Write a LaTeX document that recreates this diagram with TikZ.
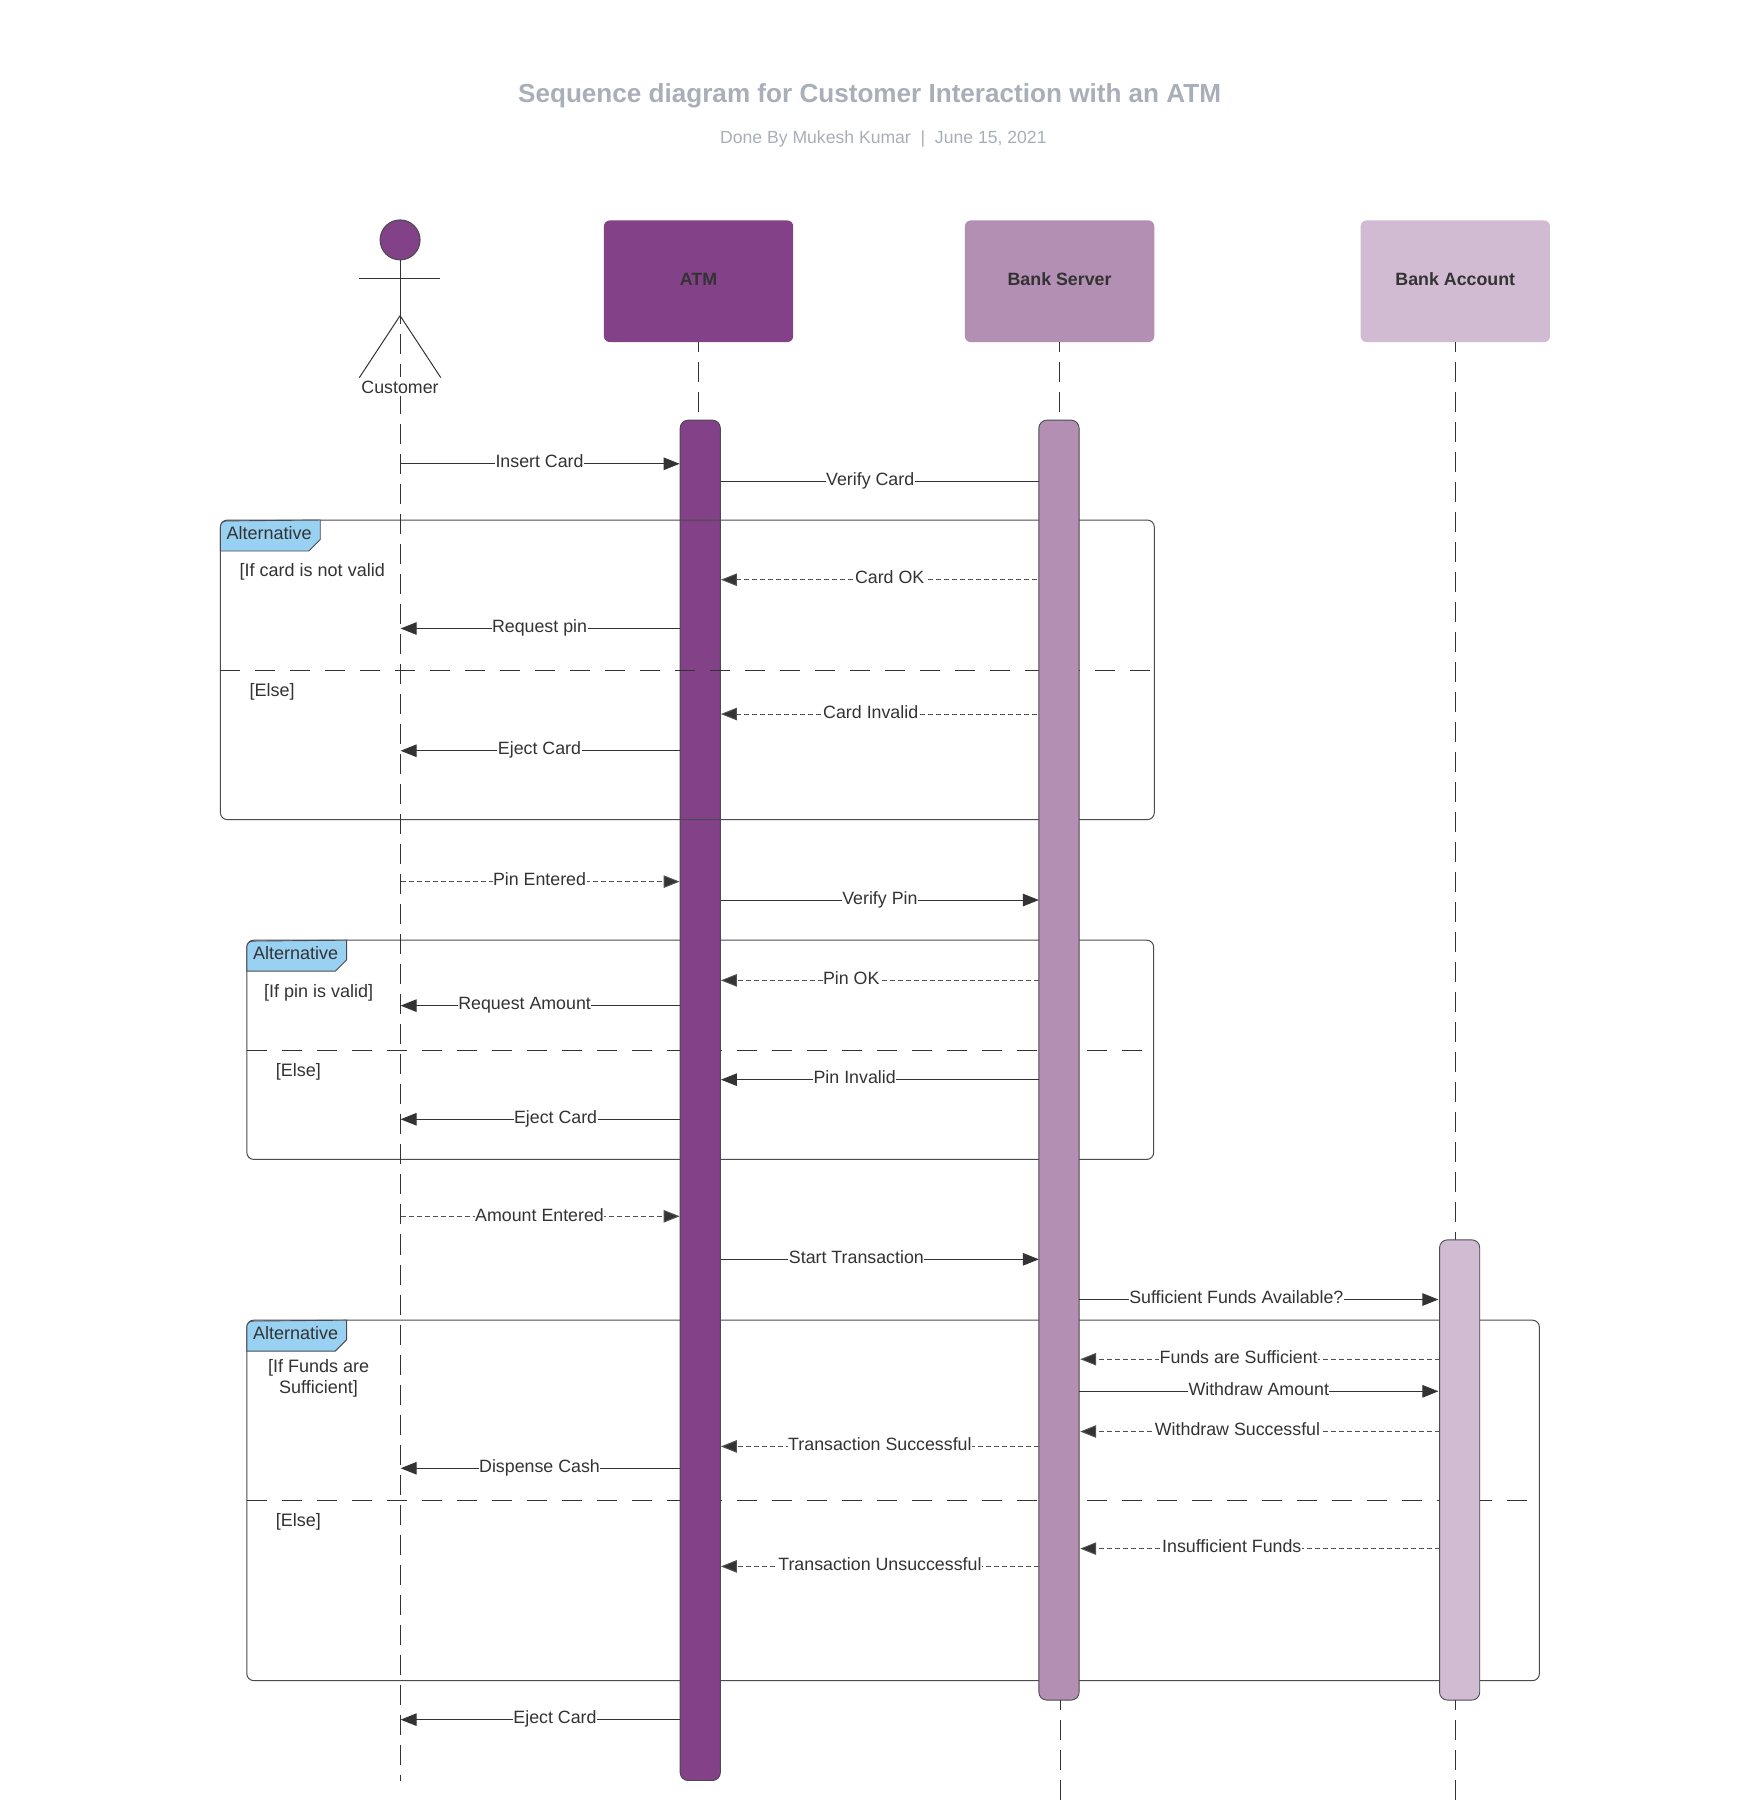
\documentclass[tikz,border=0pt]{standalone}
\usepackage{fontspec}
\setmainfont{Liberation Sans}
\usetikzlibrary{arrows.meta}
\definecolor{ink}{HTML}{333333}
\definecolor{edge}{HTML}{4A4A52}
\definecolor{purA}{HTML}{834187}
\definecolor{purB}{HTML}{B28FB3}
\definecolor{purC}{HTML}{D1BBD2}
\definecolor{tabblue}{HTML}{99D1F2}
\definecolor{titlegray}{HTML}{A9AFB8}
\tikzset{
  x=1.14796pt,y=-1.14796pt,
  head/.style={minimum width=189.4pt,minimum height=121.7pt,inner sep=0pt,outer sep=0pt,rounded corners=6pt,font=\fontsize{17.8pt}{20pt}\selectfont\bfseries,text=ink},
  barbox/.style={draw=edge,line width=0.9pt,minimum width=40.2pt,inner sep=0pt,outer sep=0pt,rounded corners=8pt},
  life/.style={draw=ink,line width=1pt,dash pattern=on 20pt off 10pt,dash phase=10pt},
  solidmsg/.style={draw=ink,line width=1pt,-{Triangle[length=16pt,width=12.5pt]}},
  solidend/.style={draw=ink,line width=1pt},
  dashmsg/.style={draw=ink!85,line width=1pt,dash pattern=on 5pt off 3pt,-{Triangle[length=16pt,width=12.5pt,fill=ink]}},
  lbl/.style={fill=white,inner xsep=0.5pt,inner ysep=0pt,text height=16pt,text depth=3pt,text=ink,font=\fontsize{17.8pt}{20pt}\selectfont},
  frameln/.style={draw=edge,line width=1pt,rounded corners=7pt},
  divider/.style={draw=ink,line width=1pt,dash pattern=on 20pt off 15pt},
  tabshape/.style={draw=edge,line width=0.9pt,fill=tabblue},
  plain/.style={text=ink,font=\fontsize{18pt}{21.5pt}\selectfont,inner sep=0pt,align=center},
  stick/.style={draw=ink,line width=1pt},
}
% name, x1, x2, y, style, label x, label y, text
\newcommand{\seqmsg}[8]{%
  \coordinate (#1s) at (#2,#4);
  \coordinate (#1e) at (#3,#4);
  \draw[#5] (#1s) -- (#1e);
  \node[lbl] (#1l) at (#6,#7) {#8};
}
% name, left, top, right, bottom, divider y, divider right
\newcommand{\seqframe}[7]{%
  \draw[frameln] (#2,#3) rectangle (#4,#5);
  \coordinate (#1a) at (#2,#6);
  \coordinate (#1b) at (#7,#6);
  \draw[divider] (#1a) -- (#1b);
  \draw[tabshape,rounded corners=0pt] (#2,#3+6) arc[start angle=180,end angle=90,radius=6pt] -- (#2+87,#3) -- (#2+87,#3+17) -- (#2+77,#3+27) -- (#2,#3+27) -- cycle;
  \node[plain] (#1t) at (#2+42.5,#3+11) {Alternative};
}
\begin{document}
\begin{tikzpicture}
\useasboundingbox (0,0) rectangle (1533.16,1568);
\fill[white] (0,0) rectangle (1533.16,1568);
% title
\node[text=titlegray,font=\fontsize{26.1pt}{30pt}\selectfont\bfseries,inner sep=0pt] (title) at (757.5,83.5) {Sequence diagram for Customer Interaction with an ATM};
\node[text=titlegray,font=\fontsize{17.6pt}{20pt}\selectfont,inner sep=0pt] (sub) at (769.5,121.5) {Done By Mukesh Kumar \ |\ \ June 15, 2021};
% head boxes and upper lifelines
\node[head,fill=purA] (atm) at (608.5,245) {\raisebox{4.5pt}{ATM}};
\node[head,fill=purB] (srv) at (923,245) {\raisebox{4.5pt}{Bank Server}};
\node[head,fill=purC] (acc) at (1267.7,245) {\raisebox{4.5pt}{Bank Account}};
\coordinate (srvLow) at (923.5,1568);
\coordinate (accLow) at (1267.7,1568);
\coordinate (atmTopEnd) at (608.5,366);
\coordinate (srvTopEnd) at (923,366);
\coordinate (accTopEnd) at (1267.7,1080);
\draw[life] (atm.south) -- (atmTopEnd);
\draw[life] (srv.south) -- (srvTopEnd);
\draw[life] (acc.south) -- (accTopEnd);
% frames under the ATM bar
\seqframe{fb}{215}{819}{1005}{1010}{915}{995}
\seqframe{fc}{215}{1150}{1341}{1464}{1307}{1331}
% ATM bar
\node[barbox,fill=purA,minimum height=1360.4pt] (atmbar) at (610,958.5) {};
% frame over the ATM bar
\seqframe{fa}{192}{453}{1005.5}{714}{584}{1003}
% frame texts
\node[plain] (c1) at (272,498) {[If card is not valid};
\node[plain] (c2) at (237,603) {[Else]};
\node[plain] (c3) at (277.5,865) {[If pin is valid]};
\node[plain] (c4) at (260,934) {[Else]};
\node[plain] (c5) at (277.5,1200.5) {[If Funds are\\Sufficient]};
\node[plain] (c6) at (260,1326) {[Else]};
% customer lifeline
\coordinate (custTop) at (348.5,275);
\coordinate (custBot) at (348.5,1551);
\draw[life,dash phase=11.2pt] (custTop) -- (custBot);
% actor
\node[draw=edge,line width=1pt,fill=purA,circle,minimum size=40pt,inner sep=0pt] (head) at (348.5,209) {};
\coordinate (armL) at (313,243);
\coordinate (armR) at (383.5,243);
\coordinate (hip) at (348.5,275);
\coordinate (legL) at (313,329);
\coordinate (legR) at (384,329);
\draw[stick] (head.south) -- (hip);
\draw[stick] (armL) -- (armR);
\draw[stick] (legL) -- (hip) -- (legR);
\node[lbl] (customer) at (348.5,337) {Customer};
% other bars
\node[barbox,fill=purB,minimum height=1280pt] (srvbar) at (922.5,923.5) {};
\node[barbox,fill=purC,minimum height=460.3pt] (accbar) at (1271.5,1280.5) {};
\draw[life] (srvbar.south -| srvLow) -- (srvLow);
\draw[life] (accbar.south -| accLow) -- (accLow);
% messages
\seqmsg{m1}{348.5}{592}{404}{solidmsg}{470}{402}{Insert Card}
\seqmsg{m2}{628}{905}{419.5}{solidend}{758}{417.5}{Verify Card}
\seqmsg{m3}{903}{628}{505}{dashmsg}{775}{503}{Card OK}
\seqmsg{m4}{592}{349}{547.5}{solidmsg}{470}{545.5}{Request pin}
\seqmsg{m5}{903}{628}{622}{dashmsg}{758.5}{620}{Card Invalid}
\seqmsg{m6}{592}{349}{654}{solidmsg}{470}{652}{Eject Card}
\seqmsg{m7}{349}{592}{768}{dashmsg}{470}{766}{Pin Entered}
\seqmsg{m8}{628}{905}{784}{solidmsg}{766.5}{782}{Verify Pin}
\seqmsg{m9}{905}{628}{854}{dashmsg}{741.5}{852}{Pin OK}
\seqmsg{m10}{592}{349}{876}{solidmsg}{457}{874}{Request Amount}
\seqmsg{m11}{905}{628}{940.5}{solidmsg}{744.5}{938.5}{Pin Invalid}
\seqmsg{m12}{592}{349}{975}{solidmsg}{484}{973}{Eject Card}
\seqmsg{m13}{349}{592}{1059.5}{dashmsg}{470}{1058}{Amount Entered}
\seqmsg{m14}{628}{905}{1097}{solidmsg}{746}{1095}{Start Transaction}
\seqmsg{m15}{940}{1253}{1132}{solidmsg}{1077}{1130}{Sufficient Funds Available?}
\seqmsg{m16}{1254}{941}{1184}{dashmsg}{1079}{1182}{Funds are Sufficient}
\seqmsg{m17}{940}{1253}{1212}{solidmsg}{1096.5}{1210}{Withdraw Amount}
\seqmsg{m18}{1254}{941}{1247}{dashmsg}{1078}{1245}{Withdraw Successful}
\seqmsg{m19}{905}{628}{1260}{dashmsg}{766.5}{1257.5}{Transaction Successful}
\seqmsg{m20}{592}{349}{1279}{solidmsg}{470}{1277}{Dispense Cash}
\seqmsg{m21}{1254}{941}{1349}{dashmsg}{1073}{1347}{Insufficient Funds}
\seqmsg{m22}{905}{628}{1364.5}{dashmsg}{766.5}{1362.5}{Transaction Unsuccessful}
\seqmsg{m23}{592}{349}{1498}{solidmsg}{483.5}{1496}{Eject Card}
\end{tikzpicture}
\end{document}
